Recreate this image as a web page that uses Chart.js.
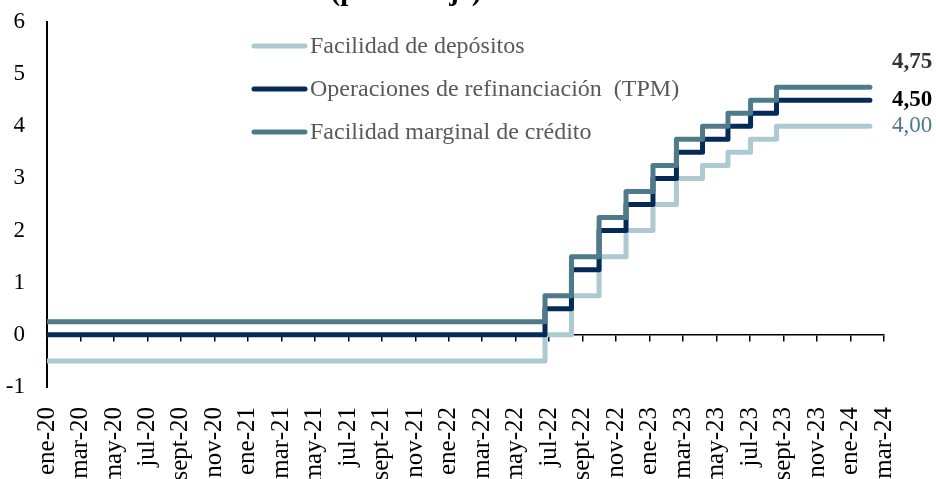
<!DOCTYPE html>
<html>
<head>
<meta charset="utf-8">
<script src="https://cdn.jsdelivr.net/npm/chart.js@4/dist/chart.umd.min.js"></script>
<style>
  html, body { margin: 0; padding: 0; background: #fff; }
  #wrap { width: 936px; height: 479px; }
</style>
</head>
<body>
<div id="wrap"><canvas id="chart" width="936" height="479"></canvas></div>
<script>
// x positions of each rate change, in months counted from ene-20
const cambios = [0, 29.75, 31.33, 32.98, 34.59, 36.2, 37.6, 39.16, 40.68, 42.03, 43.58, 49.16];

const deposito = [-0.5, 0, 0.75, 1.5, 2.0, 2.5, 3.0, 3.25, 3.5, 3.75, 4.0, 4.0];
const refinanciacion = [0, 0.5, 1.25, 2.0, 2.5, 3.0, 3.5, 3.75, 4.0, 4.25, 4.5, 4.5];
const marginal = [0.25, 0.75, 1.5, 2.25, 2.75, 3.25, 3.75, 4.0, 4.25, 4.5, 4.75, 4.75];

const etiquetasX = [
  'ene-20', 'mar-20', 'may-20', 'jul-20', 'sept-20', 'nov-20',
  'ene-21', 'mar-21', 'may-21', 'jul-21', 'sept-21', 'nov-21',
  'ene-22', 'mar-22', 'may-22', 'jul-22', 'sept-22', 'nov-22',
  'ene-23', 'mar-23', 'may-23', 'jul-23', 'sept-23', 'nov-23',
  'ene-24', 'mar-24'
];

const nombres = ['Facilidad de depósitos', 'Operaciones de refinanciación  (TPM)', 'Facilidad marginal de crédito'];
const colores = ['#adc9d2', '#052a58', '#4e7a8a'];

const serif = "'Liberation Serif', 'Times New Roman', serif";
Chart.defaults.font.family = serif;
Chart.defaults.color = '#000';

const toPoints = (vals) => cambios.map((x, i) => ({ x: x, y: vals[i] }));

function serie(idx, vals, order) {
  return {
    label: nombres[idx],
    data: toPoints(vals),
    borderColor: colores[idx],
    backgroundColor: colores[idx],
    borderWidth: 5,
    borderCapStyle: 'round',
    borderJoinStyle: 'round',
    stepped: 'before',
    pointRadius: 0,
    fill: false,
    order: order
  };
}

// legend, end values and the (cut) title, drawn over the chart area
const extras = {
  id: 'extras',
  afterDraw(chart) {
    const ctx = chart.ctx;
    const y = chart.scales.y;
    ctx.save();

    ctx.font = 'bold 29px ' + serif;
    ctx.fillStyle = '#000';
    ctx.textAlign = 'center';
    ctx.textBaseline = 'alphabetic';
    ctx.fillText('(porcentaje)', 406, 0);

    ctx.font = '24px ' + serif;
    ctx.textAlign = 'left';
    ctx.textBaseline = 'middle';
    nombres.forEach((n, i) => {
      const ly = 46 + i * 43;
      ctx.strokeStyle = colores[i];
      ctx.lineWidth = 5;
      ctx.lineCap = 'round';
      ctx.beginPath();
      ctx.moveTo(254, ly);
      ctx.lineTo(305, ly);
      ctx.stroke();
      ctx.fillStyle = '#595959';
      ctx.fillText(n, 310, ly + 1);
    });

    const fmt = (v) => v.toFixed(2).replace('.', ',');
    const fin = [
      { v: marginal[marginal.length - 1], dy: -25, color: '#333', font: 'bold 23px ' },
      { v: refinanciacion[refinanciacion.length - 1], dy: 0, color: '#000', font: 'bold 23px ' },
      { v: deposito[deposito.length - 1], dy: 0, color: '#4e7a85', font: '23px ' }
    ];
    fin.forEach((f) => {
      ctx.font = f.font + serif;
      ctx.fillStyle = f.color;
      ctx.fillText(fmt(f.v), 892, y.getPixelForValue(f.v) + f.dy);
    });
    ctx.restore();
  }
};

new Chart(document.getElementById('chart'), {
  type: 'line',
  data: {
    datasets: [
      serie(0, deposito, 2),
      serie(1, refinanciacion, 1),
      serie(2, marginal, 0)
    ]
  },
  options: {
    responsive: false,
    animation: false,
    layout: { padding: { top: 22, right: 52, left: 0, bottom: 0 } },
    plugins: { legend: { display: false }, tooltip: { enabled: false } },
    scales: {
      x: {
        type: 'linear',
        min: 0,
        max: 50,
        grid: { display: false },
        border: { display: false },
        ticks: {
          stepSize: 2,
          autoSkip: false,
          maxRotation: 90,
          minRotation: 90,
          padding: 12,
          font: { size: 25 },
          callback: (v) => etiquetasX[v / 2]
        },
        afterFit: (s) => { s.height = 92; }
      },
      x2: {
        type: 'linear',
        axis: 'x',
        position: { y: 0 },
        min: 0,
        max: 50,
        ticks: { display: false, stepSize: 2 },
        grid: { drawOnChartArea: false, drawTicks: true, tickLength: 6, color: '#000', lineWidth: 1.5 },
        border: { display: true, color: '#000', width: 1.5 }
      },
      y: {
        min: -1,
        max: 6,
        grid: { display: false, drawTicks: false },
        border: { display: true, color: '#000', width: 2 },
        ticks: { stepSize: 1, padding: 22, font: { size: 23 } },
        afterFit: (s) => {
          s.width = 47;
          s.paddingTop = 0;
          s.paddingBottom = 0;
        }
      }
    }
  },
  plugins: [extras]
});
</script>
</body>
</html>
